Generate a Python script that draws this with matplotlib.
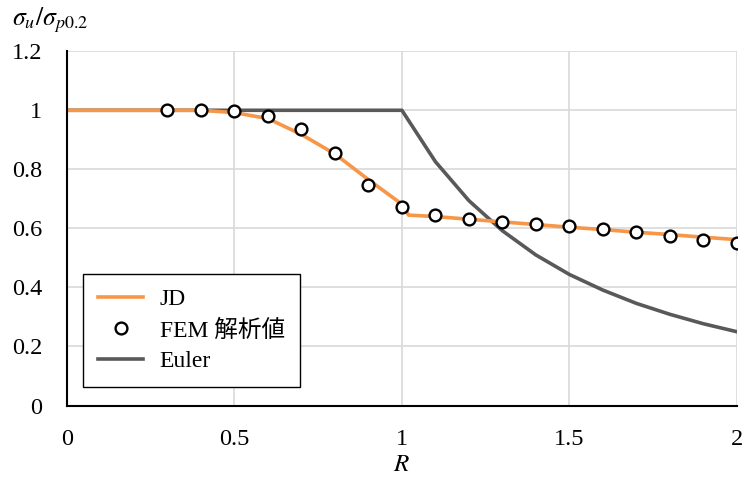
import numpy as np
import matplotlib
matplotlib.use('Agg')
import matplotlib.pyplot as plt

plt.rcParams['font.family'] = ['Liberation Serif', 'Noto Sans CJK JP']
plt.rcParams['mathtext.fontset'] = 'stix'

# JD curve
jd_r = [0, 0.1, 0.2, 0.3, 0.4, 0.5, 0.6, 0.7, 0.8, 0.9, 1.0, 1.02,
        1.1, 1.2, 1.3, 1.4, 1.5, 1.6, 1.7, 1.8, 1.9, 2.0]
jd_val = [1.0, 1.0, 1.0, 1.0, 1.0, 0.992, 0.972, 0.918, 0.852, 0.765, 0.682, 0.645,
          0.640, 0.631, 0.622, 0.613, 0.604, 0.596, 0.587, 0.579, 0.570, 0.562]

# FEM results
fem_r = [0.3, 0.4, 0.5, 0.6, 0.7, 0.8, 0.9, 1.0, 1.1,
         1.2, 1.3, 1.4, 1.5, 1.6, 1.7, 1.8, 1.9, 2.0]
fem_val = [1.0, 1.0, 0.997, 0.98, 0.935, 0.856, 0.746, 0.673, 0.646,
           0.633, 0.620, 0.614, 0.607, 0.597, 0.587, 0.574, 0.561, 0.549]

# Euler curve
euler_r = [0, 0.1, 0.2, 0.3, 0.4, 0.5, 0.6, 0.7, 0.8, 0.9, 1.0,
           1.1, 1.2, 1.3, 1.4, 1.5, 1.6, 1.7, 1.8, 1.9, 2.0]
euler_val = [1.0, 1.0, 1.0, 1.0, 1.0, 1.0, 1.0, 1.0, 1.0, 1.0, 1.0,
             0.826, 0.694, 0.592, 0.510, 0.444, 0.391, 0.346, 0.309, 0.277, 0.250]

fig = plt.figure(figsize=(7.48, 4.82), dpi=100)
ax = fig.add_axes([0.0896, 0.1587, 0.8954, 0.735])

ax.plot(jd_r, jd_val, color='#F79646', lw=2.6, label='JD', zorder=4)
ax.plot(fem_r, fem_val, ls='none', marker='o', ms=8.5, mfc='white', mec='black',
        mew=1.7, label='FEM 解析値', zorder=5)
ax.plot(euler_r, euler_val, color='#595959', lw=2.6, label='Euler', zorder=3)

ax.set_xlim(0, 2)
ax.set_ylim(0, 1.2)
ax.set_xticks([0, 0.5, 1, 1.5, 2])
ax.set_xticklabels(['0', '0.5', '1', '1.5', '2'])
ax.set_yticks([0, 0.2, 0.4, 0.6, 0.8, 1.0, 1.2])
ax.set_yticklabels(['0', '0.2', '0.4', '0.6', '0.8', '1', '1.2'])
ax.tick_params(axis='both', length=0, labelsize=17.5)
ax.tick_params(axis='x', pad=17)
ax.tick_params(axis='y', pad=18)

ax.grid(True, color='#D9D9D9', lw=1.2)
ax.set_axisbelow(True)
for s in ['top', 'right']:
    ax.spines[s].set_visible(False)
for s in ['left', 'bottom']:
    ax.spines[s].set_color('black')
    ax.spines[s].set_linewidth(1.5)
    ax.spines[s].set_zorder(6)

leg = ax.legend(loc='lower left', bbox_to_anchor=(0.024, 0.051), borderaxespad=0,
                fancybox=False, edgecolor='black', framealpha=1, fontsize=17,
                handlelength=1.9, handletextpad=0.7, borderpad=0.65, labelspacing=0.38)
leg.get_frame().set_linewidth(1.0)

ax.set_xlabel('$R$', fontsize=18, labelpad=3)
fig.text(0.016, 0.958, r'$\sigma_u/\sigma_{p0.2}$', fontsize=18.5, va='center', ha='left')

fig.savefig('out.png', dpi=100)
